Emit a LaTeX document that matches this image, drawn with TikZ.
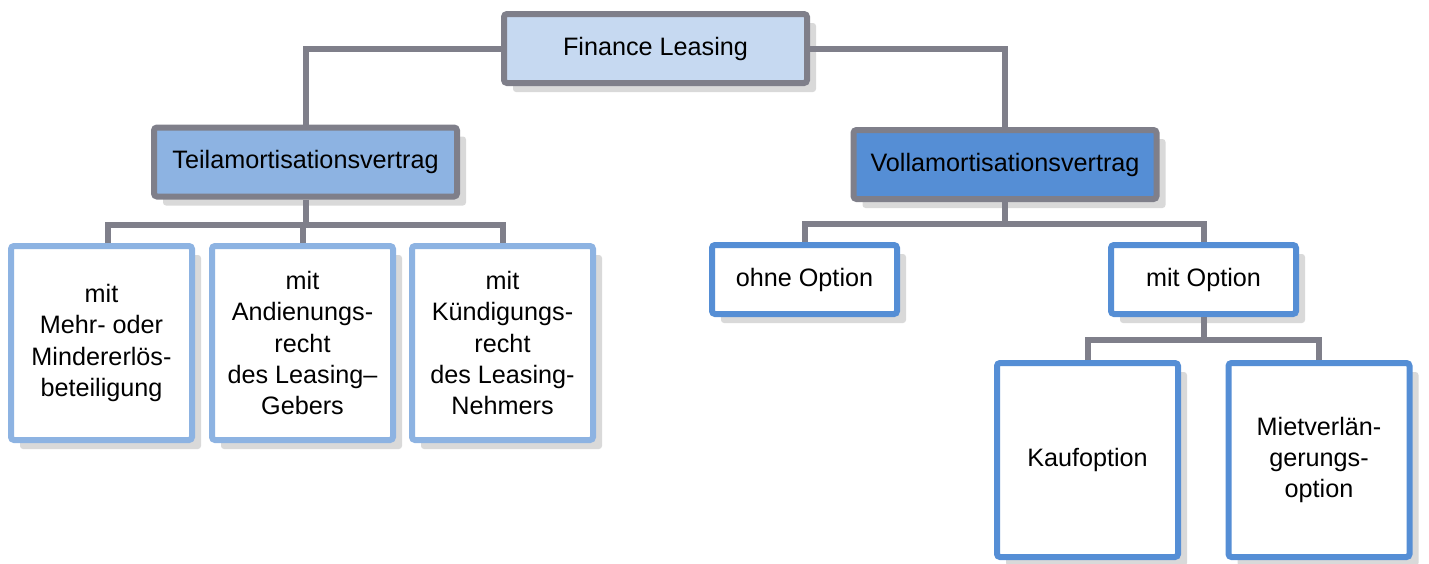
\documentclass[tikz,border=0pt]{standalone}
\usepackage{fontspec}
\setmainfont{Liberation Sans}
\usepackage{tikz}
\usetikzlibrary{shadows}
\definecolor{linegray}{HTML}{7F7F8A}
\definecolor{shadowgray}{HTML}{D9D9D9}
\definecolor{paleblue}{HTML}{C6D9F1}
\definecolor{midblue}{HTML}{8DB3E2}
\definecolor{darkblue}{HTML}{558ED5}
\tikzset{
    x=0.5pt, y=-0.5pt, % pixel grid of the reference
    box/.style={draw=linegray, line width=3pt, rounded corners=1.5pt, align=center,
        inner sep=0pt, font=\fontsize{12.6}{15.6}\selectfont,
        drop shadow={shadow xshift=4.5pt, shadow yshift=-4.5pt, fill=shadowgray, opacity=1}}, % every box
    wide/.style={box, minimum width=151.5pt, minimum height=34.5pt}, % upper levels
    small/.style={box, fill=white, draw=darkblue, minimum width=92.5pt, minimum height=34.5pt},
    tall/.style={box, fill=white, minimum width=90.5pt, minimum height=97pt},
    conn/.style={draw=linegray, line width=3pt}, % tree lines
    }
\begin{document}
\begin{tikzpicture}
\useasboundingbox (0,0) rectangle (1429,563);
\node[wide, fill=paleblue] (fin) at (655.5,48.5) {Finance Leasing};
\node[wide, fill=midblue] (teil) at (305.5,162) {Teilamortisationsvertrag};
\node[wide, fill=darkblue] (voll) at (1005,164.5) {Vollamortisationsvertrag};

\node[tall, draw=midblue] (erloes) at (101.5,343) {mit\\Mehr- oder\\Mindererlös-\\beteiligung};
\node[tall, draw=midblue] (andien) at (302.5,343) {mit\\Andienungs-\\recht\\des Leasing–\\Gebers};
\node[tall, draw=midblue] (kuend) at (502.5,343) {mit\\Kündigungs-\\recht\\des Leasing-\\Nehmers};

\node[small] (ohne) at (804.5,279.5) {ohne Option};
\node[small] (mitopt) at (1203.5,279.5) {mit Option};

\node[tall, draw=darkblue] (kauf) at (1087.5,460) {Kaufoption};
\node[tall, draw=darkblue] (miet) at (1319,460) {Mietverlän-\\gerungs-\\option};

% tree lines
\coordinate (teilbus) at (305.5,225);
\coordinate (vollbus) at (1005,224);
\coordinate (mitbus) at (1203.5,340);
\draw[conn] (fin.west) -| (teil.north);
\draw[conn] (fin.east) -| (voll.north);
\draw[conn] (teil.south) -- (teilbus);
\draw[conn] ([xshift=3pt]erloes.north) |- (teilbus) -| (kuend.north);
\draw[conn] (andien.north) -- (andien.north |- teilbus);
\draw[conn] (voll.south) -- (vollbus);
\draw[conn] (ohne.north) |- (vollbus) -| (mitopt.north);
\draw[conn] (mitopt.south) -- (mitbus);
\draw[conn] (kauf.north) |- (mitbus) -| (miet.north);
\end{tikzpicture}
\end{document}
